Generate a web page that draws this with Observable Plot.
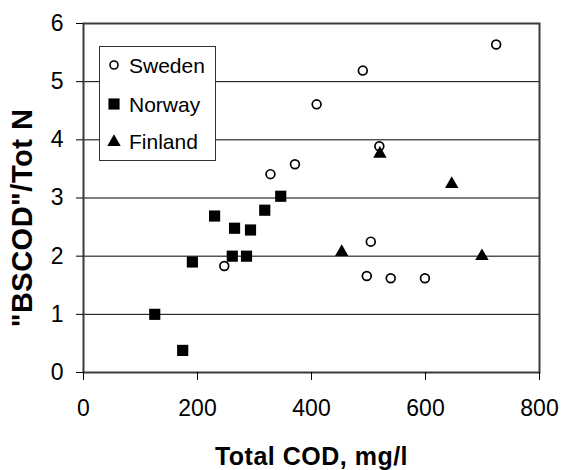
<!DOCTYPE html>
<html><head><meta charset="utf-8">
<script src="https://cdn.jsdelivr.net/npm/d3@7"></script>
<script src="https://cdn.jsdelivr.net/npm/@observablehq/plot@0.6"></script>
<style>
body{margin:0;background:#fff;font-family:"Liberation Sans",Arial,sans-serif;}
#wrap{position:relative;width:563px;height:470px;}
#legend{position:absolute;left:99px;top:46px;width:117px;height:115px;border:1px solid #333;background:#fff;box-sizing:border-box;}
#legend svg{display:block;}
</style></head><body><div id="wrap"></div>
<script>
const seriesNames = ["Sweden", "Norway", "Finland"];
const swedenCOD   = [724, 490, 409, 519, 371, 328, 504, 247, 497, 539, 599];
const swedenRatio = [5.64, 5.19, 4.61, 3.89, 3.58, 3.41, 2.25, 1.83, 1.66, 1.62, 1.62];
const norwayCOD   = [125, 174, 191, 230, 265, 261, 293, 286, 318, 346];
const norwayRatio = [1.00, 0.38, 1.90, 2.69, 2.48, 2.00, 2.45, 2.00, 2.79, 3.03];
const finlandCOD   = [520, 646, 453, 699];
const finlandRatio = [3.76, 3.24, 2.07, 2.00];
const xTicks = [0, 200, 400, 600, 800];
const yTicks = [0, 1, 2, 3, 4, 5, 6];
const xTitle = "Total COD, mg/l";
const yTitle = "\"BSCOD\"/Tot N";

const toRows = (xs, ys) => xs.map((x, i) => ({x, y: ys[i]}));
const sweden = toRows(swedenCOD, swedenRatio);
const norway = toRows(norwayCOD, norwayRatio);
const finland = toRows(finlandCOD, finlandRatio);

const font = "'Liberation Sans', Arial, sans-serif";
const chart = Plot.plot({
  width: 563, height: 470,
  marginLeft: 83, marginRight: 24, marginTop: 23, marginBottom: 98,
  style: {fontFamily: font, background: "#fff", color: "#000", overflow: "visible"},
  x: {domain: [0, 800]},
  y: {domain: [0, 6]},
  marks: [
    Plot.gridY(yTicks.filter(v => v > 0 && v < 6), {stroke: "#000", strokeOpacity: 1, strokeWidth: 1}),
    Plot.frame({stroke: "#3a3a3a", strokeWidth: 2}),
    Plot.axisY({ticks: yTicks, tickSize: 7, tickPadding: 13, fontSize: 23, label: null, tickFormat: d => String(d), stroke: "#000"}),
    Plot.axisX({ticks: xTicks, tickSize: 8, tickPadding: 19, fontSize: 23, label: null, tickFormat: d => String(d), stroke: "#000"}),
    Plot.text([yTitle], {frameAnchor: "left", textAnchor: "middle", lineAnchor: "middle", rotate: -90, dx: -61, dy: 20, fontSize: 29, fontWeight: "bold", fill: "#000"}),
    Plot.text([xTitle], {frameAnchor: "bottom", textAnchor: "middle", lineAnchor: "bottom", dy: 92, fontSize: 25, fontWeight: "bold", fill: "#000"}),
    Plot.dot(sweden, {x: "x", y: "y", symbol: "circle", r: 4.4, fill: "#fff", stroke: "#000", strokeWidth: 1.7}),
    Plot.dot(norway, {x: "x", y: "y", symbol: "square", r: 6.3, fill: "#000", stroke: "none"}),
    Plot.dot(finland, {x: "x", y: "y", symbol: "triangle", r: 5, fill: "#000", stroke: "none"})
  ]
});
const wrap = document.getElementById("wrap");
wrap.appendChild(chart);
// letter spacing on the axis titles
chart.querySelectorAll("text").forEach(t => {
  if (t.textContent === yTitle) t.setAttribute("letter-spacing", "0.5");
  if (t.textContent === xTitle) t.setAttribute("letter-spacing", "0.5");
});

// legend box inside the plot area
const lg = document.createElement("div");
lg.id = "legend";
const rowsY = [18, 57, 94];
const sym = [
  `<circle cx="14" cy="${rowsY[0]}" r="4" fill="#fff" stroke="#000" stroke-width="1.6"/>`,
  `<path d="${d3.symbol(d3.symbolSquare, Math.PI * 6.3 * 6.3)()}" transform="translate(14,${rowsY[1]})" fill="#000"/>`,
  `<path d="${d3.symbol(d3.symbolTriangle, Math.PI * 5 * 5)()}" transform="translate(14,${rowsY[2] + 1})" fill="#000"/>`
];
lg.innerHTML = `<svg width="115" height="113" style="font-family:${font}">` +
  seriesNames.map((n, i) => sym[i] + `<text x="29" y="${rowsY[i]}" dy="0.36em" font-size="21" fill="#000">${n}</text>`).join("") +
  `</svg>`;
wrap.appendChild(lg);
</script>
</body></html>
